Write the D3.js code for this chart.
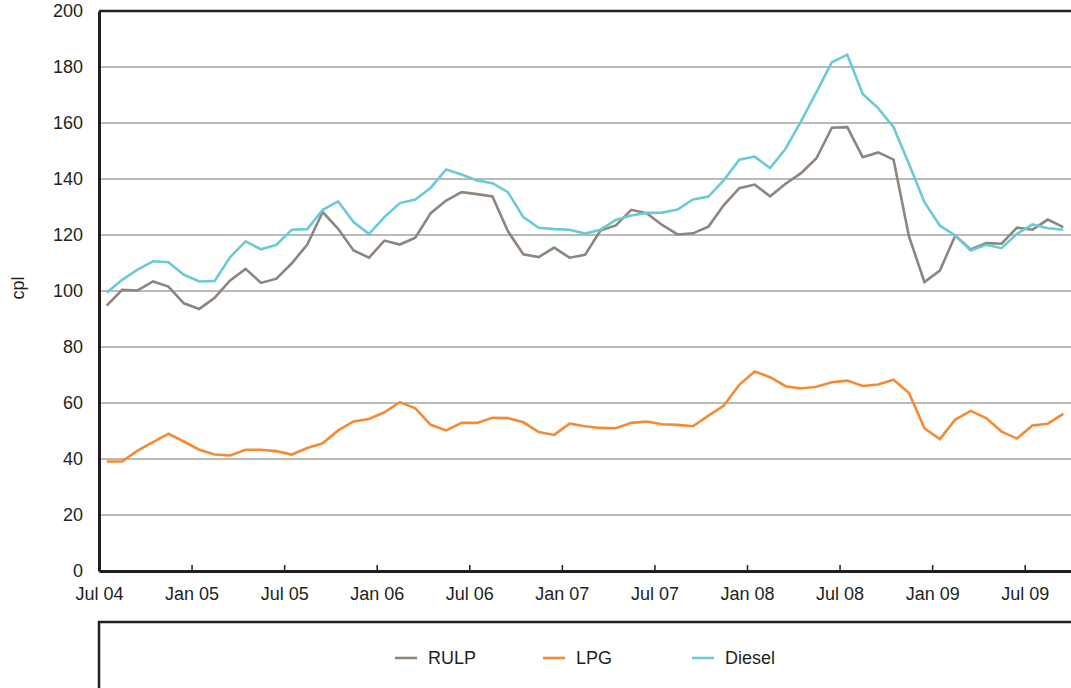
<!DOCTYPE html>
<html>
<head>
<meta charset="utf-8">
<script src="https://cdn.jsdelivr.net/npm/d3@7"></script>
<style>
  body { margin: 0; background: #fff; }
  svg { display: block; font-family: "Liberation Sans", Arial, sans-serif; }
</style>
</head>
<body>
<svg id="chart" width="1071" height="688"></svg>
<script>
// monthly data, Jul 04 .. Sep 09
const tickLabels = ["Jul 04", "Jan 05", "Jul 05", "Jan 06", "Jul 06", "Jan 07", "Jul 07", "Jan 08", "Jul 08", "Jan 09", "Jul 09"];
const yTicks = [0, 20, 40, 60, 80, 100, 120, 140, 160, 180, 200];

const rulp = [94.8, 100.4, 100.2, 103.4, 101.6, 95.6, 93.6, 97.6, 103.75, 107.9,
  102.9, 104.4, 109.9, 116.6, 128.2, 122.2, 114.5, 111.9, 118, 116.6,
  119, 127.8, 132.3, 135.3, 134.6, 133.8, 121.4, 113.1, 112.1, 115.5,
  111.9, 112.9, 121.6, 123.4, 129, 127.8, 123.6, 120.2, 120.6, 123,
  130.7, 136.7, 138, 133.8, 138.3, 142.1, 147.4, 158.3, 158.5, 147.8,
  149.5, 146.9, 119.5, 103.2, 107.3, 119.8, 114.8, 117.1, 116.9, 122.6,
  121.9, 125.5, 122.8];

const lpg = [39.1, 39.1, 43, 46, 49, 46.25, 43.3, 41.6, 41.25, 43.3,
  43.3, 42.8, 41.6, 43.9, 45.6, 50.2, 53.4, 54.3, 56.7, 60.3,
  58.1, 52.2, 50.2, 52.9, 52.9, 54.7, 54.6, 53.1, 49.6, 48.6,
  52.6, 51.7, 51.1, 51, 52.9, 53.4, 52.4, 52.2, 51.7, 55.5,
  59.1, 66.5, 71.25, 69.2, 66, 65.2, 65.8, 67.4, 68, 66.1,
  66.6, 68.3, 63.6, 51, 47.1, 54.1, 57.2, 54.6, 49.8, 47.3,
  52, 52.6, 56.1];

const diesel = [99.4, 104, 107.6, 110.6, 110.3, 105.8, 103.4, 103.6, 112.1, 117.7,
  114.9, 116.5, 121.9, 122.1, 129, 132, 124.6, 120.4, 126.4, 131.4,
  132.7, 136.9, 143.4, 141.6, 139.5, 138.5, 135.3, 126.4, 122.6, 122.1,
  121.9, 120.5, 121.9, 125.4, 127, 127.9, 128, 129.1, 132.7, 133.7,
  139.6, 146.9, 148, 143.9, 150.8, 160.6, 171, 181.7, 184.4, 170.4,
  165.3, 158.5, 145.4, 131.7, 123.4, 119.8, 114.5, 116.5, 115.3, 120.4,
  123.75, 122.4, 121.9];

const seriesNames = ["RULP", "LPG", "Diesel"];
const seriesColors = ["#8f857d", "#f58a34", "#6acbd3"];
const seriesData = [rulp, lpg, diesel];

const svg = d3.select("#chart");
const ink = "#231f20";
const fontSize = "18px";

const plotLeft = 99, plotRight = 1071, plotTop = 11, plotBottom = 571;

// x: month index, each point sits in the middle of its month
const nMonths = rulp.length;
const x = d3.scaleLinear().domain([0, nMonths]).range([plotLeft, plotRight]);
const y = d3.scaleLinear().domain([0, 200]).range([plotBottom, plotTop]);

// gridlines
svg.append("g")
  .selectAll("line")
  .data(yTicks.filter(d => d > 0))
  .join("line")
  .attr("x1", plotLeft).attr("x2", plotRight)
  .attr("y1", d => y(d)).attr("y2", d => y(d))
  .attr("stroke", "#a3a3a3")
  .attr("stroke-width", 1.5);

// top frame line
svg.append("line")
  .attr("x1", plotLeft).attr("x2", plotRight)
  .attr("y1", plotTop).attr("y2", plotTop)
  .attr("stroke", ink).attr("stroke-width", 2.5);

// y axis
const yAxis = d3.axisLeft(y).tickValues(yTicks).tickSize(0).tickPadding(16);
const gy = svg.append("g")
  .attr("transform", `translate(${plotLeft},0)`)
  .call(yAxis);
gy.select(".domain").attr("stroke", ink).attr("stroke-width", 3);
gy.selectAll("text")
  .attr("fill", ink)
  .style("font-size", fontSize);

// x axis, ticks every 6 months pointing up
const xTickVals = tickLabels.map((d, i) => i * 6);
const xAxis = d3.axisBottom(x)
  .tickValues(xTickVals)
  .tickFormat((d, i) => tickLabels[i])
  .tickSize(-6)
  .tickSizeOuter(0)
  .tickPadding(16);
const gx = svg.append("g")
  .attr("transform", `translate(0,${plotBottom})`)
  .call(xAxis);
gx.select(".domain").attr("stroke", ink).attr("stroke-width", 3);
gx.selectAll(".tick line").attr("stroke", ink).attr("stroke-width", 1.5);
gx.selectAll("text")
  .attr("fill", ink)
  .attr("dy", "0.71em")
  .style("font-size", fontSize);

// y label
svg.append("text")
  .attr("transform", "translate(24,288) rotate(-90)")
  .attr("text-anchor", "middle")
  .attr("fill", ink)
  .style("font-size", fontSize)
  .text("cpl");

// lines
const line = d3.line()
  .x((d, i) => x(i + 0.5))
  .y(d => y(d));

svg.append("g")
  .selectAll("path")
  .data(seriesData)
  .join("path")
  .attr("d", line)
  .attr("fill", "none")
  .attr("stroke", (d, i) => seriesColors[i])
  .attr("stroke-width", 2.6)
  .attr("stroke-linejoin", "miter");

// legend box (open at the right and bottom, like the source)
svg.append("path")
  .attr("d", `M${plotLeft},688 V622 H${plotRight}`)
  .attr("fill", "none")
  .attr("stroke", ink)
  .attr("stroke-width", 2.5);

const legendX = [395, 543, 692];
const legend = svg.append("g")
  .selectAll("g")
  .data(seriesNames)
  .join("g")
  .attr("transform", (d, i) => `translate(${legendX[i]},658)`);
legend.append("line")
  .attr("x1", 0).attr("x2", 22)
  .attr("stroke", (d, i) => seriesColors[i])
  .attr("stroke-width", 2.6);
legend.append("text")
  .attr("x", 33)
  .attr("dy", "0.35em")
  .attr("fill", ink)
  .style("font-size", fontSize)
  .text(d => d);
</script>
</body>
</html>
